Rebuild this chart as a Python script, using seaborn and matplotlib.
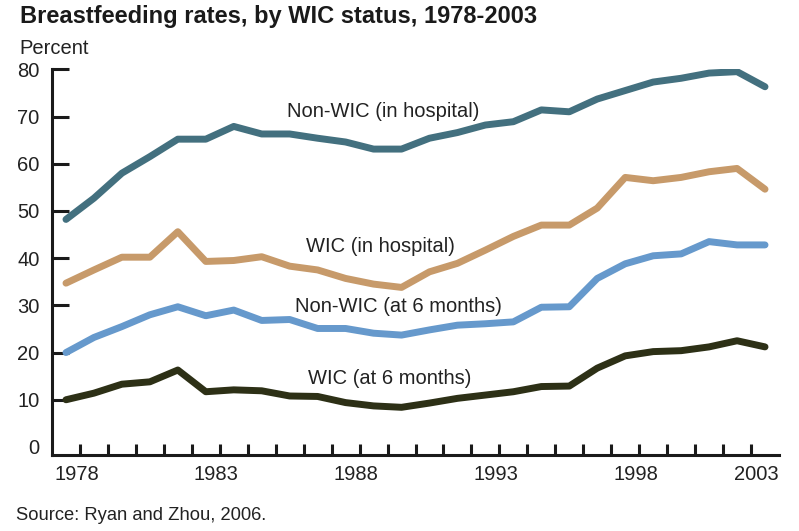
import numpy as np
import pandas as pd
import matplotlib
matplotlib.use("Agg")
import matplotlib.pyplot as plt
import seaborn as sns

years = list(range(1978, 2004))
nonwic_hospital = [48.2, 52.7, 58.0, 61.5, 65.2, 65.2, 67.9, 66.3, 66.3, 65.4, 64.6, 63.1, 63.1,
                   65.4, 66.6, 68.2, 68.9, 71.4, 71.0, 73.7, 75.5, 77.3, 78.1, 79.2, 79.5, 76.3]
wic_hospital = [34.7, 37.5, 40.2, 40.2, 45.6, 39.3, 39.5, 40.3, 38.3, 37.5, 35.7, 34.5, 33.8,
                37.1, 38.9, 41.7, 44.6, 47.0, 47.0, 50.6, 57.1, 56.4, 57.1, 58.3, 59.0, 54.6]
nonwic_6mo = [20.0, 23.2, 25.5, 28.0, 29.7, 27.8, 29.0, 26.8, 27.0, 25.1, 25.1, 24.1, 23.7,
              24.8, 25.8, 26.1, 26.5, 29.6, 29.7, 35.7, 38.8, 40.5, 40.9, 43.5, 42.8, 42.8]
wic_6mo = [10.0, 11.4, 13.3, 13.8, 16.3, 11.7, 12.1, 11.9, 10.8, 10.7, 9.4, 8.7, 8.4,
           9.3, 10.3, 11.0, 11.7, 12.8, 12.9, 16.7, 19.3, 20.2, 20.4, 21.2, 22.5, 21.2]

series_names = ["Non-WIC (in hospital)", "WIC (in hospital)", "Non-WIC (at 6 months)", "WIC (at 6 months)"]
series_colors = ["#43707F", "#C79A6A", "#6699CC", "#2D3016"]
x_tick_labels = ["1978", "1983", "1988", "1993", "1998", "2003"]
y_ticks = [0, 10, 20, 30, 40, 50, 60, 70, 80]

title = "Breastfeeding rates, by WIC status, 1978-2003"
source = "Source: Ryan and Zhou, 2006."

df = pd.DataFrame({
    "year": years * 4,
    "rate": nonwic_hospital + wic_hospital + nonwic_6mo + wic_6mo,
    "series": sum([[n] * len(years) for n in series_names], []),
})

sns.set_theme(style="white")
plt.rcParams["font.family"] = ["Liberation Sans", "DejaVu Sans"]

W, H = 799, 531
fig = plt.figure(figsize=(W / 100, H / 100), dpi=100)
ax = fig.add_axes([52 / W, (H - 455) / H, (779 - 52) / W, (455 - 69.3) / H])

sns.lineplot(data=df, x="year", y="rate", hue="series", palette=dict(zip(series_names, series_colors)),
             hue_order=series_names, linewidth=5, legend=False, ax=ax,
             solid_capstyle="round")

ax.set_xlim(1977.5, 2003.5)
ax.set_ylim(-1.7, 80)
ax.set_xlabel("")
ax.set_ylabel("")

for s in ["top", "right"]:
    ax.spines[s].set_visible(False)
for s in ["left", "bottom"]:
    ax.spines[s].set_linewidth(2.2)
    ax.spines[s].set_color("#1a1a1a")
    ax.spines[s].set_capstyle("projecting")

txt_color = "#222222"
ax.set_yticks(y_ticks)
ax.set_yticklabels([str(v) for v in y_ticks], fontsize=14.5, color=txt_color)
ax.tick_params(axis="y", which="major", left=True, direction="in", length=12.5, width=2.2,
               color="#1a1a1a", pad=9)
ax.yaxis.get_major_ticks()[0].tick1line.set_visible(False)

label_years = [int(t) for t in x_tick_labels]
ax.set_xticks([y + 0.38 for y in label_years[:-1]] + [2003.5])
ax.set_xticklabels(x_tick_labels, fontsize=14.5, color=txt_color)
ax.get_xticklabels()[-1].set_ha("right")
ax.tick_params(axis="x", which="major", bottom=True, length=0, pad=7)
ax.set_xticks([y + 0.5 for y in years], minor=True)
ax.tick_params(axis="x", which="minor", bottom=True, direction="in", length=8, width=2.2,
               color="#1a1a1a")

label_pos = [(1989.36, 71.0), (1989.25, 42.4), (1989.9, 29.7), (1989.57, 14.6)]
for name, (lx, ly) in zip(series_names, label_pos):
    ax.text(lx, ly, name, ha="center", va="center", fontsize=14.5, color=txt_color)

fig.text(20 / W, 1 - 16 / H, title, ha="left", va="center", fontsize=17, fontweight="bold", color="#1a1a1a")
fig.text(19 / W, 1 - 49 / H, "Percent", ha="left", va="center", fontsize=14.5, color=txt_color)
fig.text(16 / W, 1 - 515 / H, source, ha="left", va="center", fontsize=13.2, color=txt_color)

fig.savefig("out.png", dpi=100)
